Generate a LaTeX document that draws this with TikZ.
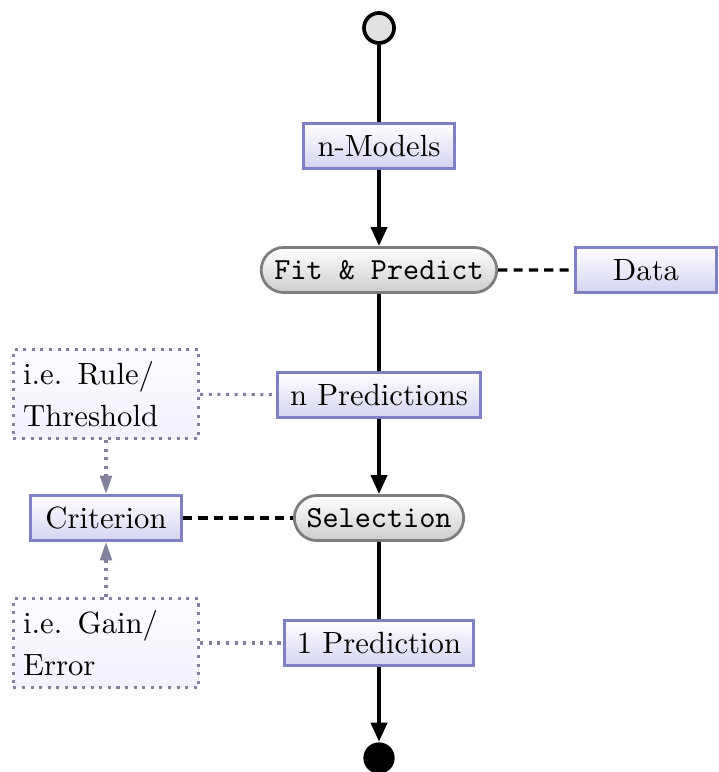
\documentclass[tikz,border=0pt]{standalone}
\usetikzlibrary{arrows.meta,shapes.misc}
\definecolor{boxborder}{RGB}{128,128,196}
\definecolor{boxbottom}{RGB}{212,212,240}
\definecolor{rndborder}{RGB}{125,125,125}
\definecolor{rndbottom}{RGB}{205,205,205}
\definecolor{noteborder}{RGB}{130,130,158}
\definecolor{notefill}{RGB}{252,252,255}
\definecolor{notebottom}{RGB}{242,242,253}
\definecolor{startfill}{RGB}{226,226,226}
\begin{document}
\begin{tikzpicture}[x=0.326pt,y=-0.326pt,
  flowbox/.style={draw=boxborder,line width=0.9pt,top color=white,bottom color=boxbottom,
    minimum height=14.7pt,inner xsep=4pt,inner ysep=2pt},
  rndbox/.style={draw=rndborder,line width=0.9pt,top color=white,bottom color=rndbottom,
    rounded rectangle,minimum height=14.7pt,inner xsep=3pt,inner ysep=2pt,font=\ttfamily},
  notebox/.style={draw=noteborder,line width=1pt,dash pattern=on 1pt off 1.8pt,top color=notefill,bottom color=notebottom,
    align=left,text width=54pt,inner xsep=3.2pt,minimum height=29pt},
  flow/.style={line width=1.25pt},
  flowarrow/.style={line width=1.25pt,-{Triangle[length=6.2pt,width=5.2pt]}},
  assoc/.style={line width=1.1pt,dash pattern=on 3pt off 2pt},
  noteline/.style={draw=noteborder,line width=1pt,dash pattern=on 1pt off 1.8pt},
  notearrow/.style={draw=noteborder,line width=1pt,dash pattern=on 1pt off 1.8pt,-{Triangle[length=6pt,width=3.8pt,color=noteborder]}}
]
\useasboundingbox (0,0) rectangle (718,772);
\node[circle,draw,line width=1.2pt,fill=startfill,minimum size=9.8pt,inner sep=0pt] (start) at (379,28) {};
\node[flowbox,minimum width=49pt] (models) at (379,146) {n-Models};
\node[rndbox,minimum width=82.8pt] (fit) at (379,270) {Fit \& Predict};
\node[flowbox,minimum width=46pt] (data) at (646,270) {Data};
\node[flowbox,minimum width=65.5pt] (npred) at (379,395) {n Predictions};
\node[notebox] (rule) at (106,394) {i.e. Rule/\\[1.5pt]Threshold};
\node[flowbox,minimum width=49.3pt] (crit) at (106,518) {Criterion};
\node[rndbox,minimum width=61.2pt] (sel) at (379,518) {Selection};
\node[notebox] (gain) at (106,643) {i.e. Gain/\\[1.5pt]Error};
\node[flowbox,minimum width=60.5pt] (onepred) at (379,643) {1 Prediction};
\node[circle,fill=black,minimum size=10.2pt,inner sep=0pt] (end) at (379,758) {};

\draw[flow] (start) -- (models);
\draw[flowarrow] (models) -- (fit);
\draw[flow] (fit) -- (npred);
\draw[flowarrow] (npred) -- (sel);
\draw[flow] (sel) -- (onepred);
\draw[flowarrow] (onepred) -- (end);
\draw[assoc] (fit) -- (data);
\draw[assoc] (crit) -- (sel);
\draw[noteline] (rule) -- (npred);
\draw[noteline] (gain) -- (onepred);
\draw[notearrow] (rule) -- (crit);
\draw[notearrow] (gain) -- (crit);
\end{tikzpicture}
\end{document}
